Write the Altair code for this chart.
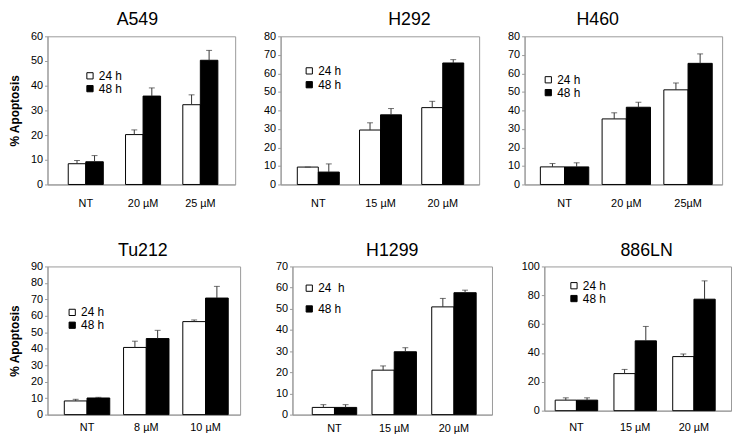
import altair as alt
import pandas as pd

# ---------------- data ----------------
panels = ["A549", "H292", "H460", "Tu212", "H1299", "886LN"]
doses = [
    ["NT", "20 µM", "25 µM"],
    ["NT", "15 µM", "20 µM"],
    ["NT", "20 µM", "25µM"],
    ["NT", "8 µM", "10 µM"],
    ["NT", "15 µM", "20 µM"],
    ["NT", "15 µM", "20 µM"],
]
series = ["24 h", "48 h"]
mean_24 = [
    [8.4, 20.2, 32.3],
    [9.4, 29.4, 41.5],
    [9.5, 35.4, 51.1],
    [8.3, 40.8, 56.5],
    [3.4, 21.0, 50.9],
    [7.3, 25.7, 37.5],
]
err_24 = [
    [1.3, 1.9, 4.0],
    [0.0, 3.9, 3.4],
    [1.8, 3.3, 3.7],
    [1.0, 3.8, 1.0],
    [1.3, 2.0, 4.0],
    [1.6, 2.9, 1.8],
]
mean_48 = [
    [9.2, 35.8, 50.3],
    [6.7, 37.6, 65.6],
    [9.5, 41.7, 65.4],
    [10.1, 46.2, 70.8],
    [3.4, 29.7, 57.6],
    [7.3, 48.4, 77.3],
]
err_48 = [
    [2.5, 3.3, 4.0],
    [4.4, 3.4, 1.8],
    [2.2, 2.7, 5.1],
    [0.4, 5.0, 7.1],
    [1.3, 1.9, 1.2],
    [1.6, 10.0, 12.7],
]
y_max = [60, 80, 80, 90, 70, 100]
y_step = [10, 10, 10, 10, 10, 20]
y_title = "% Apoptosis"

# ---------------- layout / style ----------------
FONT = "Liberation Sans"
GRAY = "#999999"
layout = [
    # width, height, padInner, padOuter, align, legX, legY, legRowPad, title dx,
    # x-label padding, show y title
    dict(w=190, h=150, pi=0.388, po=0.332, al=0.545, lx=37, ly=34, lr=1, tdx=-4, lp=13, yt=True),
    dict(w=201, h=150, pi=0.325, po=0.258, al=0.52, lx=23, ly=29, lr=2, tdx=30, lp=13, yt=False),
    dict(w=200, h=150, pi=0.216, po=0.208, al=0.615, lx=18, ly=38, lr=1, tdx=-26, lp=13, yt=False),
    dict(w=195, h=150, pi=0.233, po=0.242, al=0.586, lx=19, ly=40.5, lr=1, tdx=-1, lp=7, yt=True),
    dict(w=202, h=150, pi=0.256, po=0.298, al=0.556, lx=11, ly=16, lr=9, tdx=0, lp=8, yt=False),
    dict(w=189, h=146, pi=0.277, po=0.227, al=0.407, lx=24, ly=13.5, lr=1, tdx=9, lp=11, yt=False),
]


def make_legend(i):
    L = layout[i]
    kw = dict(orient="none", legendX=L["lx"], legendY=L["ly"], title=None,
              symbolType="square", symbolSize=40, symbolStrokeColor="black",
              symbolStrokeWidth=1, labelFontSize=12, labelOffset=3,
              labelColor="black", rowPadding=L["lr"], padding=0,
              direction="vertical")
    if panels[i] == "H1299":
        kw["labelExpr"] = "datum.label == '24 h' ? '24\u00a0\u00a0h' : datum.label"
    return alt.Legend(**kw)


def make_panel(i):
    L = layout[i]
    rows = []
    for j, d in enumerate(doses[i]):
        rows.append({"dose": d, "series": series[0], "mean": mean_24[i][j],
                     "upper": mean_24[i][j] + err_24[i][j]})
        rows.append({"dose": d, "series": series[1], "mean": mean_48[i][j],
                     "upper": mean_48[i][j] + err_48[i][j]})
    df = pd.DataFrame(rows)

    xscale = alt.Scale(paddingInner=L["pi"], paddingOuter=L["po"], align=L["al"])
    xaxis = alt.Axis(title=None, labelAngle=0, ticks=False, domainColor=GRAY,
                     labelPadding=L["lp"], labelFontSize=11, labelColor="black")
    yscale = alt.Scale(domain=[0, y_max[i]], nice=False)
    yaxis = alt.Axis(values=list(range(0, y_max[i] + 1, y_step[i])),
                     title=y_title if L["yt"] else None,
                     grid=False, domainColor=GRAY, tickColor=GRAY, tickSize=3,
                     labelPadding=2, labelFontSize=11, labelColor="black",
                     titleFontSize=12, titleFontWeight="bold", titlePadding=9,
                     titleColor="black")

    x = alt.X("dose:N", sort=doses[i], scale=xscale, axis=xaxis)
    xo = alt.XOffset("series:N", sort=series, scale=alt.Scale(domain=series))

    base = alt.Chart(df)
    bars = base.mark_bar(stroke="black", strokeWidth=1).encode(
        x=x, xOffset=xo,
        y=alt.Y("mean:Q", scale=yscale, axis=yaxis),
        fill=alt.Fill("series:N", scale=alt.Scale(domain=series, range=["white", "black"]),
                      legend=make_legend(i)),
    )
    rules = base.mark_rule(color="#333333", strokeWidth=1).encode(
        x=x, xOffset=xo,
        y=alt.Y("mean:Q", scale=yscale, axis=yaxis),
        y2="upper:Q",
    )
    caps = base.mark_tick(color="#333333", size=6, thickness=1, orient="horizontal").encode(
        x=x, xOffset=xo,
        y=alt.Y("upper:Q", scale=yscale, axis=yaxis),
    )
    return alt.layer(bars, rules, caps).properties(
        width=L["w"], height=L["h"],
        title=alt.Title(panels[i], fontSize=18, fontWeight="normal", anchor="middle",
                        dx=L["tdx"], offset=1, color="black", font=FONT),
    )


ps = [make_panel(i) for i in range(6)]


def row(charts, spacing):
    return (
        alt.hconcat(*charts, spacing=spacing, bounds="flush")
        .resolve_scale(x="independent", y="independent", fill="independent",
                       xOffset="independent")
        .resolve_legend(fill="independent")
    )


top = row(ps[0:3], 46)
bottom = row(ps[3:6], 53)

chart = (
    alt.vconcat(top, bottom, spacing=32)
    .resolve_scale(x="independent", y="independent", fill="independent", xOffset="independent")
    .resolve_legend(fill="independent")
    .properties(padding=0)
    .configure(font=FONT)
    .configure_view(stroke=GRAY, strokeWidth=1)
    .configure_axis(labelFont=FONT, titleFont=FONT)
    .configure_legend(labelFont=FONT)
)

chart.save("out.html", embed_options={"renderer": "svg", "actions": False})
